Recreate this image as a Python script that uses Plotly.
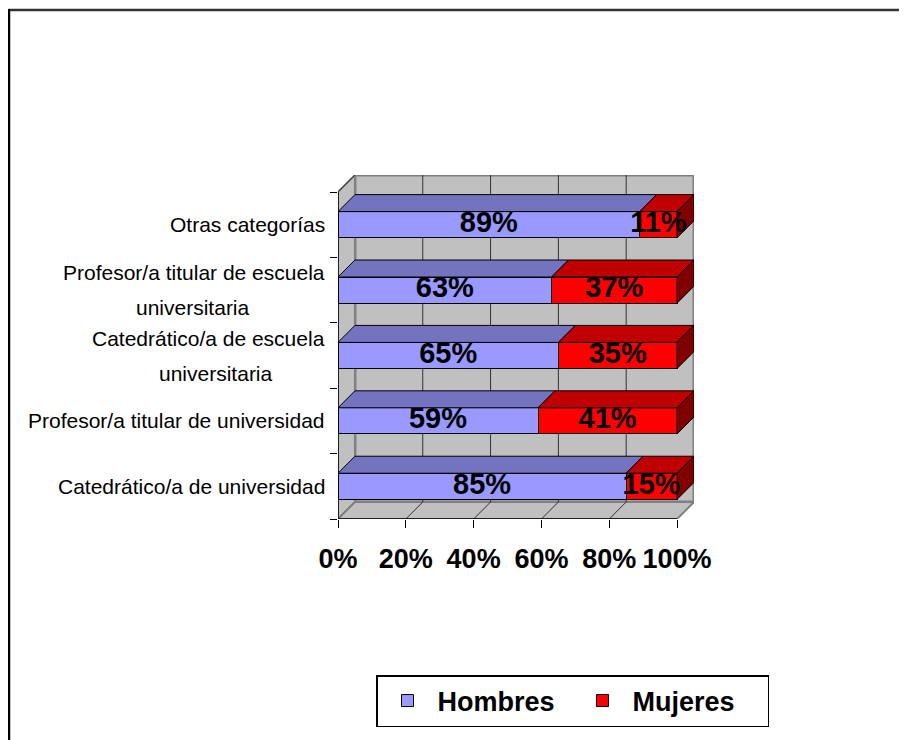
import plotly.graph_objects as go

# ─── Data ─────────────────────────────────────────────────────────────────────

categorias = [
    "Catedrático/a de universidad",
    "Profesor/a titular de universidad",
    "Catedrático/a de escuela<br>universitaria",
    "Profesor/a titular de escuela<br>universitaria",
    "Otras categorías",
]
hombres = [85, 59, 65, 63, 89]
mujeres = [15, 41, 35, 37, 11]
x_ticks = [0, 20, 40, 60, 80, 100]
x_tick_labels = ["0%", "20%", "40%", "60%", "80%", "100%"]

# ─── Style ────────────────────────────────────────────────────────────────────

# the page puts the figure 8px in from the top-left corner
OFF = 8
W, H = 907 - OFF, 740 - OFF
L, T = 338 - OFF, 175 - OFF              # plot area in px (figure coords)
R = W - (694 - OFF)
B = H - (519 - OFF)
FONT = "Liberation Sans, Arial, sans-serif"
LABEL_SIZE = 21

LAV, LAV_TOP = "#9999FF", "#7373BF"
RED, RED_TOP, RED_SIDE = "#FF0000", "#C00000", "#800000"
WALL, WALL_EDGE = "#C0C0C0", "#808080"

DX = 5.0                                  # depth in x units (%)
DY = 0.26                                 # depth in category units
HALF = 0.2                                # half bar thickness
XMAX = 100 + DX
YMIN, YMAX = -0.5, len(categorias) - 0.5 + DY
LINE_GAP = 35                             # px between label lines
CHAR_W = 0.44 * LABEL_SIZE                # rough average glyph width


def paper_x(px):
    return (px - OFF - L) / (W - L - R)


def paper_y(py):
    return (H - B - (py - OFF)) / (H - T - B)


ypos = list(range(len(categorias)))
tops = [a + b for a, b in zip(hombres, mujeres)]

fig = go.Figure()

# front faces
fig.add_trace(go.Bar(
    y=ypos, x=hombres, orientation="h", width=2 * HALF, name="Hombres",
    marker=dict(color=LAV, line=dict(color="black", width=1)),
    hoverinfo="skip",
))
fig.add_trace(go.Bar(
    y=ypos, x=mujeres, base=hombres, orientation="h", width=2 * HALF,
    name="Mujeres",
    marker=dict(color=RED, line=dict(color="black", width=1)),
    hoverinfo="skip",
))


def polys(pts_list):
    xs, ys = [], []
    for pts in pts_list:
        for px_, py_ in pts + [pts[0]]:
            xs.append(px_)
            ys.append(py_)
        xs.append(None)
        ys.append(None)
    return xs, ys


# top faces + right side of the stack
lav_top = [[(0, y + HALF), (h, y + HALF), (h + DX, y + HALF + DY), (DX, y + HALF + DY)]
           for y, h in zip(ypos, hombres)]
red_top = [[(h, y + HALF), (t, y + HALF), (t + DX, y + HALF + DY), (h + DX, y + HALF + DY)]
           for y, h, t in zip(ypos, hombres, tops)]
red_side = [[(t, y - HALF), (t, y + HALF), (t + DX, y + HALF + DY), (t + DX, y - HALF + DY)]
            for y, t in zip(ypos, tops)]

for pts, col in [(lav_top, LAV_TOP), (red_top, RED_TOP), (red_side, RED_SIDE)]:
    xs, ys = polys(pts)
    fig.add_trace(go.Scatter(
        x=xs, y=ys, mode="lines", fill="toself", fillcolor=col,
        line=dict(color="black", width=1), showlegend=False, hoverinfo="skip",
    ))

# value labels
lab_x, lab_y, lab_t = [], [], []
for y, h, m in zip(ypos, hombres, mujeres):
    lab_x += [h / 2, h + m / 2]
    lab_y += [y, y]
    lab_t += [f"{h}%", f"{m}%"]
fig.add_trace(go.Scatter(
    x=lab_x, y=lab_y, text=lab_t, mode="text", showlegend=False,
    textfont=dict(family=FONT, size=29, color="black", weight="bold"),
    hoverinfo="skip",
))

# walls, floor, grid
shapes = [
    dict(type="rect", x0=DX, x1=XMAX, y0=YMIN + DY, y1=YMAX,
         fillcolor=WALL, line=dict(color=WALL_EDGE, width=3)),
    dict(type="path",
         path=f"M0,{YMIN} L{DX},{YMIN + DY} L{DX},{YMAX} L0,{YMAX - DY} Z",
         fillcolor=WALL, line=dict(color=WALL_EDGE, width=2)),
    dict(type="path",
         path=f"M0,{YMIN} L100,{YMIN} L{XMAX},{YMIN + DY} L{DX},{YMIN + DY} Z",
         fillcolor=WALL, line=dict(color=WALL_EDGE, width=2)),
]
for t in x_ticks[1:-1]:
    shapes.append(dict(type="line", x0=t + DX, x1=t + DX, y0=YMIN + DY, y1=YMAX,
                       line=dict(color="#333333", width=1)))
    shapes.append(dict(type="line", x0=t, x1=t + DX, y0=YMIN, y1=YMIN + DY,
                       line=dict(color="#333333", width=1)))
shapes.append(dict(type="line", x0=0, x1=DX, y0=YMAX - DY, y1=YMAX,
                   line=dict(color="#333333", width=1)))
for s in shapes:
    s.update(xref="x", yref="y", layer="below")

# front edges (axes lines)
shapes.append(dict(type="line", xref="x", yref="y", x0=0, x1=0, y0=YMIN, y1=YMAX - DY,
                   line=dict(color="black", width=1.5)))
shapes.append(dict(type="line", xref="x", yref="y", x0=0, x1=100, y0=YMIN, y1=YMIN,
                   line=dict(color="black", width=1.5)))

# outer frame (top + left)
shapes.append(dict(type="line", xref="paper", yref="paper",
                   x0=paper_x(8.5), x1=paper_x(907), y0=paper_y(10), y1=paper_y(10),
                   line=dict(color="#333333", width=2.5)))
shapes.append(dict(type="line", xref="paper", yref="paper",
                   x0=paper_x(9), x1=paper_x(9), y0=paper_y(9), y1=paper_y(740),
                   line=dict(color="black", width=2.5)))

# category labels: one annotation per line so the line spacing can be opened up;
# continuation lines are centred under the first one
labels = []
for y, c in zip(ypos, categorias):
    lines = c.split("<br>")
    n = len(lines)
    first_w = len(lines[0]) * CHAR_W
    for k, line in enumerate(lines):
        labels.append(dict(
            x=0, y=y, xref="x", yref="y", text=line, showarrow=False,
            xanchor="right" if k == 0 else "center", yanchor="middle",
            xshift=-11 if k == 0 else -11 - first_w / 2,
            yshift=((n - 1) / 2 - k) * LINE_GAP,
            font=dict(family=FONT, size=LABEL_SIZE, color="black"),
        ))

fig.update_layout(
    width=W, height=H,
    margin=dict(l=L, r=R, t=T, b=B, autoexpand=False),
    paper_bgcolor="white", plot_bgcolor="white",
    barmode="stack",
    showlegend=True,
    legend=dict(
        orientation="h", traceorder="normal",
        x=paper_x(769), y=paper_y(675),
        xanchor="right", yanchor="top",
        bgcolor="white", bordercolor="black", borderwidth=1.5,
        font=dict(family=FONT, size=27, color="black", weight="bold"),
        itemwidth=50, entrywidth=130,
    ),
    shapes=shapes,
    annotations=labels,
    xaxis=dict(
        range=[0, XMAX], showgrid=False, zeroline=False, showline=False,
        tickvals=x_ticks, ticktext=x_tick_labels, tickangle=0,
        ticks="outside", ticklen=8, tickcolor="black", tickwidth=1,
        ticklabelstandoff=8,
        tickfont=dict(family=FONT, size=27, color="black", weight="bold"),
        fixedrange=True,
    ),
    yaxis=dict(
        range=[YMIN, YMAX], showgrid=False, zeroline=False, showline=False,
        tickvals=[y - 0.5 for y in ypos] + [ypos[-1] + 0.5],
        showticklabels=False,
        ticks="outside", ticklen=7, tickcolor="black", tickwidth=1,
        fixedrange=True,
    ),
)

fig.write_html("out.html")
